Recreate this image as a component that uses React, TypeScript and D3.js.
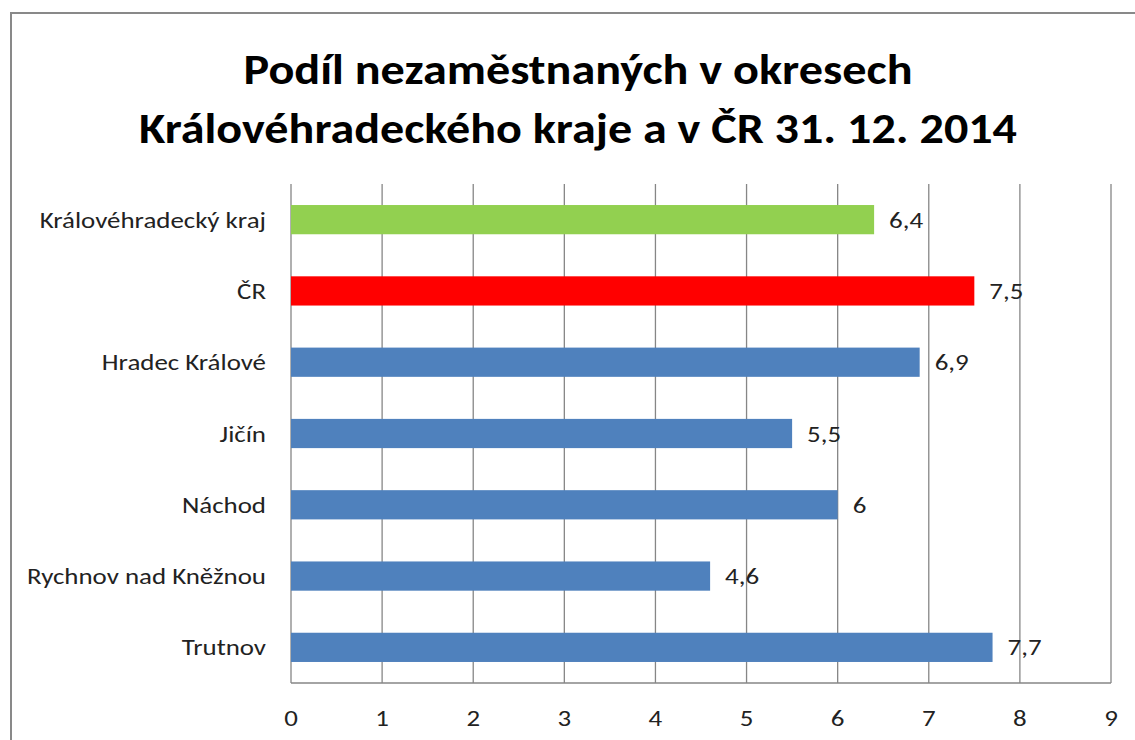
import React from "react";
import * as d3 from "d3";

// districts of Královéhradecký kraj + region + CR, unemployment share (%)
const categories = [
  "Královéhradecký kraj",
  "ČR",
  "Hradec Králové",
  "Jičín ",
  "Náchod",
  "Rychnov nad Kněžnou",
  "Trutnov",
];
const values = [6.4, 7.5, 6.9, 5.5, 6.0, 4.6, 7.7];
const valueLabels = ["6,4", "7,5", "6,9", "5,5", "6", "4,6", "7,7"];
const barColors = ["#92D050", "#FF0000", "#4F81BD", "#4F81BD", "#4F81BD", "#4F81BD", "#4F81BD"];
const xTicks = [0, 1, 2, 3, 4, 5, 6, 7, 8, 9];
const titleLines = [
  "Podíl  nezaměstnaných v okresech",
  "Královéhradeckého kraje a v ČR 31. 12. 2014",
];

const FONT = "Carlito, Lato, 'Open Sans', sans-serif";
const STRETCH = 1.17; // labels in the original are a bit wider than Lato

const App = () => {
  const W = 1135;
  const H = 740;
  const margin = { top: 184, right: 24, bottom: 57, left: 291 };
  const plotW = W - margin.left - margin.right;
  const plotH = H - margin.top - margin.bottom;

  const x = d3.scaleLinear().domain([0, 9]).range([0, plotW]);
  const y = d3
    .scaleBand()
    .domain(categories)
    .range([0, plotH])
    .paddingInner(0.59)
    .paddingOuter(0.295);

  const label = (tx: number, ty: number, s: string, anchor: string, key?: any) => (
    <text
      key={key}
      transform={`translate(${tx},${ty}) scale(${STRETCH},1)`}
      textAnchor={anchor}
      fontFamily={FONT}
      fontSize={23}
      fill="#222"
    >
      {s}
    </text>
  );

  return (
    <svg
      width={W}
      height={H}
      style={{ position: "absolute", left: 0, top: 0, background: "#fff" }}
    >
      <rect x={11} y={13} width={1300} height={900} fill="#fff" stroke="#898989" strokeWidth={2} />

      {titleLines.map((t, i) => (
        <text
          key={i}
          x={578}
          y={84 + i * 59}
          textAnchor="middle"
          fontFamily={FONT}
          fontWeight="bold"
          fontSize={42}
          fill="#000"
          textLength={i === 0 ? 669 : 878}
          lengthAdjust="spacingAndGlyphs"
        >
          {t}
        </text>
      ))}

      <g transform={`translate(${margin.left},${margin.top})`}>
        {xTicks.map((t) => (
          <g key={t}>
            <line x1={x(t)} x2={x(t)} y1={0} y2={plotH} stroke="#868686" strokeWidth={1.3} />
            {label(x(t), plotH + 43, String(t), "middle")}
          </g>
        ))}
        <line x1={0} x2={plotW} y1={plotH} y2={plotH} stroke="#868686" strokeWidth={1.3} />

        {categories.map((c, i) => (
          <g key={c}>
            <rect
              x={x(0)}
              y={y(c)!}
              width={x(values[i]) - x(0)}
              height={y.bandwidth()}
              fill={barColors[i]}
            />
            {label(x(values[i]) + 15, y(c)! + y.bandwidth() / 2 + 8, valueLabels[i], "start")}
            {label(-25, y(c)! + y.bandwidth() / 2 + 8, c, "end")}
          </g>
        ))}
      </g>
    </svg>
  );
};

export default App;
